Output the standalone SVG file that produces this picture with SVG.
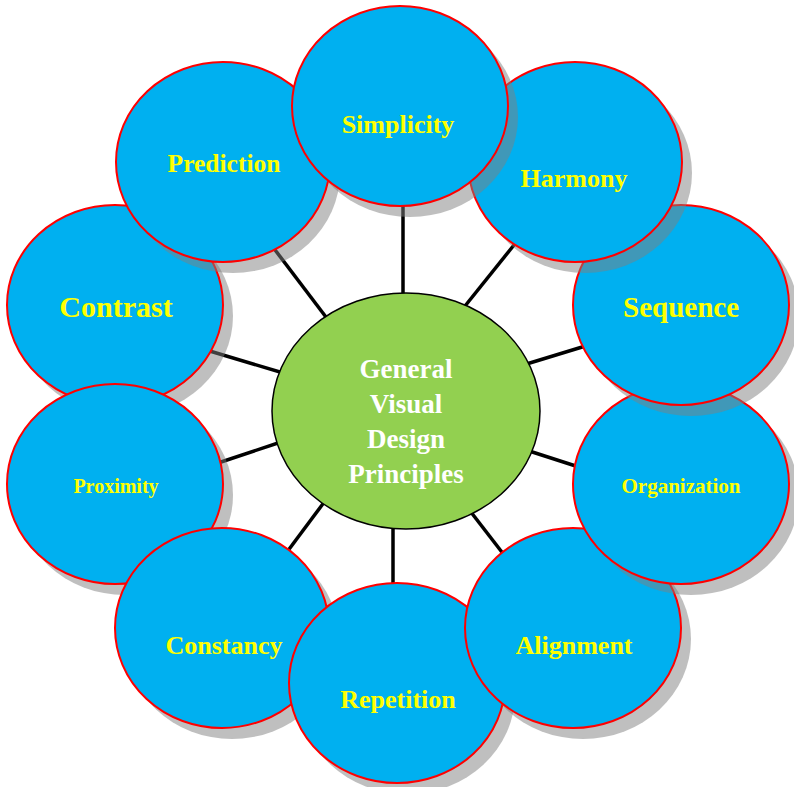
<svg xmlns="http://www.w3.org/2000/svg" width="794" height="787" viewBox="0 0 794 787">
<style>
.sh{fill:#7f7f7f;fill-opacity:0.5}
.c{fill:#00b0f0;stroke:#ff0000;stroke-width:2}
.t{font-family:"Liberation Serif","Times New Roman",serif;font-weight:bold;fill:#ffff00;text-anchor:middle}
.ln{stroke:#000;stroke-width:3.5;fill:none}
.ct{font-family:"Liberation Serif","Times New Roman",serif;font-weight:bold;fill:#ffffff;text-anchor:middle;font-size:27px}
</style>
<rect width="794" height="787" fill="#ffffff"/>
<g id="connectors">
<line class="ln" x1="403" y1="195" x2="403" y2="305"/>
<line class="ln" x1="266" y1="238" x2="332" y2="325"/>
<line class="ln" x1="518" y1="240" x2="461" y2="311"/>
<line class="ln" x1="203" y1="349" x2="290" y2="375"/>
<line class="ln" x1="592" y1="344" x2="520" y2="366"/>
<line class="ln" x1="212" y1="465" x2="287" y2="440"/>
<line class="ln" x1="523" y1="449" x2="585" y2="469"/>
<line class="ln" x1="284" y1="556" x2="328" y2="497"/>
<line class="ln" x1="393" y1="515" x2="393" y2="595"/>
<line class="ln" x1="467" y1="507" x2="508" y2="560"/>
</g>
<g id="contrast">
<ellipse class="sh" cx="125" cy="316" rx="108" ry="100"/>
<ellipse class="c" cx="115" cy="305" rx="108" ry="100"/>
<text class="t" x="116" y="317" font-size="30">Contrast</text>
</g>
<g id="proximity">
<ellipse class="sh" cx="125" cy="495" rx="108" ry="100"/>
<ellipse class="c" cx="115" cy="484" rx="108" ry="100"/>
<text class="t" x="116" y="493" font-size="20">Proximity</text>
</g>
<g id="constancy">
<ellipse class="sh" cx="232" cy="639" rx="107" ry="100"/>
<ellipse class="c" cx="222" cy="628" rx="107" ry="100"/>
<text class="t" x="224" y="654" font-size="26">Constancy</text>
</g>
<g id="repetition">
<ellipse class="sh" cx="407" cy="694" rx="108" ry="100"/>
<ellipse class="c" cx="397" cy="683" rx="108" ry="100"/>
<text class="t" x="398" y="708" font-size="26">Repetition</text>
</g>
<g id="alignment">
<ellipse class="sh" cx="583" cy="639" rx="108" ry="100"/>
<ellipse class="c" cx="573" cy="628" rx="108" ry="100"/>
<text class="t" x="574" y="654" font-size="26">Alignment</text>
</g>
<g id="organization">
<ellipse class="sh" cx="691" cy="495" rx="108" ry="100"/>
<ellipse class="c" cx="681" cy="484" rx="108" ry="100"/>
<text class="t" x="681" y="493" font-size="21">Organization</text>
</g>
<g id="sequence">
<ellipse class="sh" cx="691" cy="316" rx="108" ry="100"/>
<ellipse class="c" cx="681" cy="305" rx="108" ry="100"/>
<text class="t" x="681" y="317" font-size="29">Sequence</text>
</g>
<g id="harmony">
<ellipse class="sh" cx="585" cy="173" rx="107" ry="100"/>
<ellipse class="c" cx="575" cy="162" rx="107" ry="100"/>
<text class="t" x="574" y="187" font-size="26">Harmony</text>
</g>
<g id="prediction">
<ellipse class="sh" cx="233" cy="173" rx="107" ry="100"/>
<ellipse class="c" cx="223" cy="162" rx="107" ry="100"/>
<text class="t" x="224" y="172" font-size="25.5">Prediction</text>
</g>
<g id="simplicity">
<ellipse class="sh" cx="410" cy="117" rx="108" ry="100"/>
<ellipse class="c" cx="400" cy="106" rx="108" ry="100"/>
<text class="t" x="398" y="133" font-size="26">Simplicity</text>
</g>
<g id="center">
<ellipse cx="406" cy="411" rx="134" ry="118" fill="#92d050" stroke="#000" stroke-width="1.5"/>
<text class="ct" x="406" y="378">General</text>
<text class="ct" x="406" y="413">Visual</text>
<text class="ct" x="406" y="448">Design</text>
<text class="ct" x="406" y="483">Principles</text>
</g>
</svg>
